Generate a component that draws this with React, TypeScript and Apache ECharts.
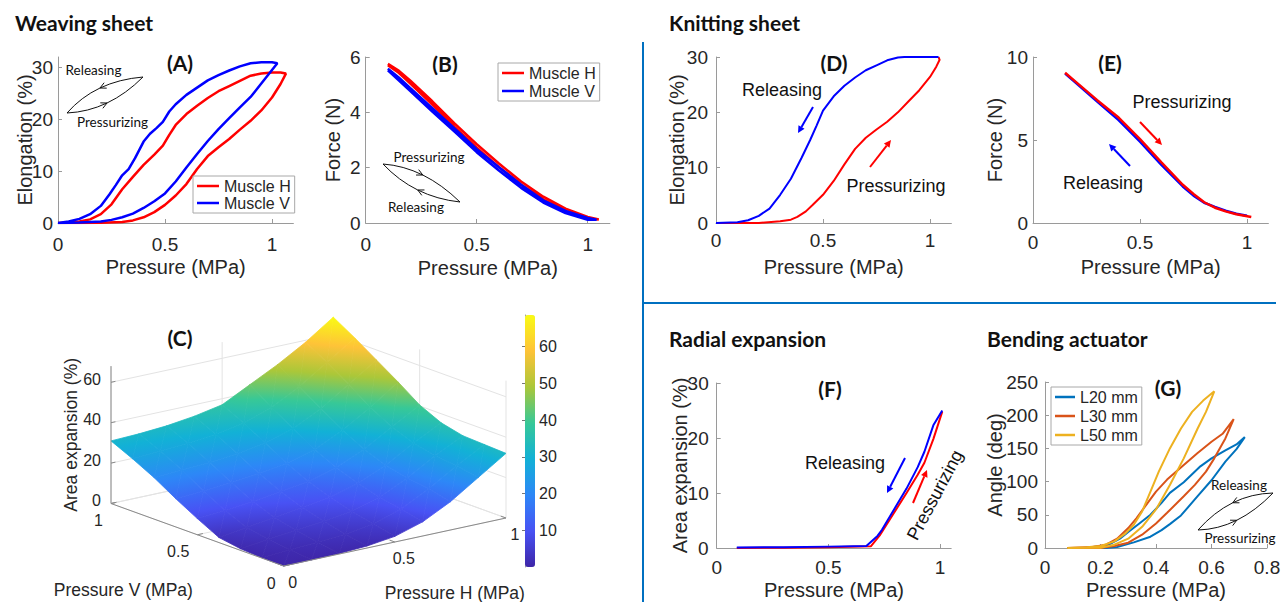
import React, { useEffect, useRef } from 'react';
import * as echarts from 'echarts';

// ---------------- Data ----------------
// (A) Weaving sheet: elongation (%) vs pressure (MPa), hysteresis loops
const aMuscleH = [[0,0],[0.1,0.02],[0.2,0.05],[0.3,0.2],[0.35,0.5],[0.4,1.1],[0.45,2.1],[0.5,3.5],[0.55,5.3],[0.6,7.5],[0.65,10.4],[0.7,12.9],[0.75,14.6],[0.8,16.2],[0.85,18],[0.9,19.7],[0.95,21.7],[1.0,24.2],[1.04,26.8],[1.065,28.8],[1.04,29],[1.0,29],[0.95,28.8],[0.9,28.4],[0.85,27.4],[0.8,26.4],[0.75,25.4],[0.7,24.1],[0.65,22.6],[0.6,21],[0.55,18.9],[0.52,17],[0.49,14.9],[0.45,13.2],[0.4,11.2],[0.35,8.9],[0.3,6.5],[0.25,3.6],[0.2,1.7],[0.15,0.7],[0.1,0.3],[0.05,0.1],[0,0]];
const aMuscleV = [[0,0],[0.1,0.1],[0.2,0.3],[0.25,0.6],[0.3,1.1],[0.35,1.8],[0.4,2.9],[0.45,4.2],[0.5,5.7],[0.55,8],[0.6,10.7],[0.65,13.3],[0.7,15.8],[0.75,18.1],[0.8,20.2],[0.85,22.3],[0.9,24.3],[0.95,26.9],[1.0,29.5],[1.025,30.8],[1.0,31],[0.95,31],[0.9,30.8],[0.85,30.2],[0.8,29.4],[0.75,28.5],[0.7,27.5],[0.65,26.1],[0.6,24.7],[0.55,22.9],[0.52,21.5],[0.49,19.5],[0.46,18.3],[0.43,17.2],[0.4,15.7],[0.36,12.5],[0.33,10.4],[0.3,9.2],[0.27,7.3],[0.24,5.5],[0.2,3.3],[0.15,1.7],[0.1,0.8],[0.05,0.3],[0,0]];
const aXTicks = [0, 0.5, 1];
const aYTicks = [0, 10, 20, 30];

// (B) Weaving sheet: force (N) vs pressure
const bMuscleH = [[0.1,5.75],[0.15,5.5],[0.2,5.15],[0.3,4.4],[0.4,3.6],[0.5,2.85],[0.6,2.15],[0.7,1.5],[0.8,0.95],[0.9,0.52],[1.0,0.22],[1.05,0.13],[1.0,0.15],[0.9,0.42],[0.8,0.85],[0.7,1.38],[0.6,2.02],[0.5,2.72],[0.4,3.47],[0.3,4.28],[0.2,5.05],[0.15,5.42],[0.1,5.7]];
const bMuscleV = [[0.1,5.58],[0.15,5.25],[0.2,4.88],[0.3,4.15],[0.4,3.42],[0.5,2.67],[0.6,2.02],[0.7,1.38],[0.8,0.82],[0.9,0.44],[1.0,0.18],[1.04,0.12],[1.0,0.12],[0.9,0.36],[0.8,0.74],[0.7,1.27],[0.6,1.9],[0.5,2.56],[0.4,3.3],[0.3,4.03],[0.2,4.78],[0.15,5.15],[0.1,5.52]];
const bXTicks = [0, 0.5, 1];
const bYTicks = [0, 2, 4, 6];

// (D) Knitting sheet: elongation
const dPressurizing = [[0,0],[0.2,0],[0.3,0.3],[0.35,0.6],[0.38,1.1],[0.42,2.1],[0.45,3.2],[0.5,5.1],[0.55,7.6],[0.6,10.6],[0.65,13.4],[0.7,15.4],[0.75,16.9],[0.8,18.3],[0.85,20],[0.9,22],[0.95,24],[1.0,26.4],[1.03,28.3],[1.045,29.5],[1.04,30]];
const dReleasing = [[1.04,30],[0.95,30],[0.88,30],[0.85,29.9],[0.8,29.4],[0.75,28.5],[0.7,27.6],[0.65,26.3],[0.6,24.8],[0.55,22.9],[0.5,20.3],[0.47,17.6],[0.44,15],[0.4,11.8],[0.35,8],[0.3,5.1],[0.27,3.6],[0.25,2.6],[0.2,1.3],[0.15,0.5],[0.1,0.15],[0,0]];
const dXTicks = [0, 0.5, 1];
const dYTicks = [0, 10, 20, 30];

// (E) Knitting sheet: force
const ePressurizing = [[0.15,9.05],[0.2,8.5],[0.3,7.4],[0.4,6.35],[0.5,5.05],[0.6,3.65],[0.7,2.3],[0.75,1.75],[0.8,1.25],[0.85,0.92],[0.9,0.7],[0.95,0.53],[1.02,0.36]];
const eReleasing = [[1.0,0.44],[0.95,0.56],[0.9,0.74],[0.85,0.97],[0.8,1.22],[0.75,1.65],[0.7,2.2],[0.6,3.5],[0.5,4.9],[0.4,6.2],[0.3,7.32],[0.2,8.45],[0.15,9.0]];
const eXTicks = [0, 0.5, 1];
const eYTicks = [0, 5, 10];

// (F) Radial expansion
const fPressurizing = [[0.09,0],[0.3,0.05],[0.5,0.15],[0.69,0.3],[0.73,2.3],[0.78,5.5],[0.85,10],[0.9,13.3],[0.93,15.5],[0.97,19.8],[1.01,24.8]];
const fReleasing = [[1.01,25],[0.97,22.3],[0.93,17.5],[0.9,14.7],[0.85,10.8],[0.8,7.4],[0.74,3.3],[0.72,2.2],[0.67,0.35],[0.5,0.25],[0.3,0.15],[0.09,0.1]];
const fXTicks = [0, 0.5, 1];
const fYTicks = [0, 10, 20, 30];

// (G) Bending actuator: angle (deg)
const gL20 = [[0.08,0],[0.15,0],[0.22,0],[0.26,1.5],[0.32,8.5],[0.38,17],[0.42,27],[0.45,36],[0.49,49],[0.55,78],[0.6,102],[0.65,130],[0.69,149],[0.72,167],[0.69,156],[0.65,147],[0.6,135],[0.56,123],[0.5,99],[0.45,83],[0.42,68],[0.38,50],[0.34,37],[0.3,24],[0.27,14],[0.23,5],[0.2,2.5],[0.15,0.5],[0.08,0]];
const gL30 = [[0.08,0],[0.2,0],[0.25,3],[0.3,8],[0.35,20],[0.4,37],[0.44,53],[0.5,78],[0.54,95],[0.58,115],[0.61,135],[0.65,165],[0.68,194],[0.64,172],[0.6,160],[0.55,143],[0.5,125],[0.44,103],[0.4,85],[0.37,68],[0.33,45],[0.3,30],[0.26,14],[0.22,5],[0.17,1.5],[0.08,0]];
const gL50 = [[0.08,0],[0.2,0.5],[0.25,5],[0.3,14],[0.35,32],[0.4,58],[0.45,95],[0.5,135],[0.55,180],[0.58,205],[0.61,236],[0.57,222],[0.53,205],[0.49,180],[0.45,150],[0.41,115],[0.38,85],[0.35,55],[0.32,35],[0.29,22],[0.25,10],[0.2,3],[0.15,1],[0.08,0]];
const gXTicks = [0, 0.2, 0.4, 0.6, 0.8];
const gYTicks = [0, 50, 100, 150, 200, 250];

// (C) Area expansion surface (%), rows = Pressure V, columns = Pressure H
const surfH = [0, 0.125, 0.25, 0.375, 0.5, 0.625, 0.75, 0.875, 1];
const surfV = [0, 0.125, 0.25, 0.375, 0.5, 0.625, 0.75, 0.875, 1];
const surfZ = [
  [0, 0.1, 0.3, 1, 2.8, 7, 14, 23, 32],
  [0.2, 1.2, 2, 3, 5, 9.5, 16.5, 25, 32.5],
  [0.8, 2.5, 4, 5.5, 7.5, 11.5, 18, 26, 33],
  [2.5, 4.5, 6.5, 8.5, 10.5, 14.5, 20.5, 28.5, 35.5],
  [8, 9, 10.5, 12.5, 14.5, 18.5, 24.5, 32.5, 40.5],
  [14, 14.8, 16, 17.5, 19.5, 23.5, 30, 38.5, 48],
  [20.5, 21.3, 22.1, 23.5, 25.8, 30, 37, 46, 55],
  [26, 26.9, 27.8, 29.3, 31.8, 36.5, 44, 53, 62],
  [31, 31.5, 32.5, 34.3, 37, 44, 51, 59, 68.5],
];
const cHTicks = [0, 0.5, 1];
const cVTicks = [0, 0.5, 1];
const cZTicks = [0, 20, 40, 60];
const cZTop = 68;
const colorbarTicks = [10, 20, 30, 40, 50, 60];
const colorMin = 0;
const colorMax = 68.6;

// ---------------- Style constants ----------------
const FONT = "'Liberation Sans', Arial, sans-serif";
const CAL = "Lato, 'Open Sans', sans-serif";
const TXT = '#262626';
const AX = '#9a9a9a';
const RED = '#ff0000';
const BLUE = '#0000ff';
const parula = ['#3E26A8', '#4852F4', '#2D87F7', '#12B1D6', '#37C897', '#ABC739', '#FEC338', '#F9FB14'];

// 3D projection (orthographic) for panel C, in pixels
const O3 = [283.7, 566];
const H3 = [222.3, -48];
const V3 = [-172.7, -62.5];
const Z3 = 2.02;
const proj = (h: number, v: number, z: number) => [O3[0] + h * H3[0] + v * V3[0], O3[1] + h * H3[1] + v * V3[1] - z * Z3];

function hexToRgb(h: string) {
  const n = parseInt(h.slice(1), 16);
  return [(n >> 16) & 255, (n >> 8) & 255, n & 255];
}
const parulaRgb = parula.map(hexToRgb);
const stopValue = (k: number) => colorMin + (k / (parula.length - 1)) * (colorMax - colorMin);
function colorAt(z: number) {
  const t = Math.max(0, Math.min(1, (z - colorMin) / (colorMax - colorMin)));
  const s = t * (parula.length - 1);
  const i = Math.min(parula.length - 2, Math.floor(s));
  const f = s - i;
  const a = parulaRgb[i];
  const b = parulaRgb[i + 1];
  return `rgb(${a.map((c, k) => Math.round(c + (b[k] - c) * f)).join(',')})`;
}
// linear gradient that reproduces the colour of z over a flat triangle
function triFill(pts: number[][], zs: number[]) {
  const zmin = Math.min(...zs), zmax = Math.max(...zs);
  const dx1 = pts[1][0] - pts[0][0], dy1 = pts[1][1] - pts[0][1];
  const dx2 = pts[2][0] - pts[0][0], dy2 = pts[2][1] - pts[0][1];
  const dz1 = zs[1] - zs[0], dz2 = zs[2] - zs[0];
  const det = dx1 * dy2 - dx2 * dy1;
  if (Math.abs(det) < 1e-6 || zmax - zmin < 1e-3) return colorAt((zmin + zmax) / 2);
  const a = (dz1 * dy2 - dz2 * dy1) / det;
  const b = (dx1 * dz2 - dx2 * dz1) / det;
  const g2 = a * a + b * b;
  if (g2 < 1e-9) return colorAt((zmin + zmax) / 2);
  const S = pts[zs.indexOf(zmin)];
  const s = (zmax - zmin) / g2;
  const stops: any[] = [{ offset: 0, color: colorAt(zmin) }];
  for (let k = 0; k < parula.length; k++) {
    const zv = stopValue(k);
    if (zv > zmin && zv < zmax) stops.push({ offset: (zv - zmin) / (zmax - zmin), color: parula[k] });
  }
  stops.push({ offset: 1, color: colorAt(zmax) });
  return { type: 'linear', x: S[0], y: S[1], x2: S[0] + a * s, y2: S[1] + b * s, global: true, colorStops: stops };
}

function xAx(grid: number, max: number, ticks: number[], labelMargin = 10, nameGap = 34) {
  return {
    type: 'value', gridIndex: grid, min: 0, max,
    name: 'Pressure (MPa)', nameLocation: 'middle', nameGap, nameMoveOverlap: false,
    nameTextStyle: { fontSize: 20, color: TXT, fontFamily: FONT },
    axisLine: { show: true, onZero: false, lineStyle: { color: AX, width: 1 } },
    axisTick: { show: true, inside: true, length: 4, lineStyle: { color: AX }, customValues: ticks },
    axisLabel: { fontSize: 19, color: TXT, margin: labelMargin, customValues: ticks, fontFamily: FONT },
    splitLine: { show: false },
  };
}
function yAx(grid: number, max: number, ticks: number[], name: string, nameGap: number, labelMargin = 6) {
  return {
    type: 'value', gridIndex: grid, min: 0, max,
    name, nameLocation: 'middle', nameGap, nameMoveOverlap: false,
    nameTextStyle: { fontSize: 20, color: TXT, fontFamily: FONT },
    axisLine: { show: true, onZero: false, lineStyle: { color: AX, width: 1 } },
    axisTick: { show: true, inside: true, length: 4, lineStyle: { color: AX }, customValues: ticks },
    axisLabel: { fontSize: 19, color: TXT, margin: labelMargin, customValues: ticks, fontFamily: FONT },
    splitLine: { show: false },
  };
}
function lineSeries(name: string, data: number[][], color: string, grid: number, width = 2.5) {
  return {
    type: 'line', name, data, xAxisIndex: grid, yAxisIndex: grid,
    showSymbol: false, symbol: 'none', smooth: false, color,
    lineStyle: { color, width }, z: 3, silent: true,
  };
}

// ---------------- Graphic helpers ----------------
function txt(text: string, x: number, y: number, size: number, opts: any = {}) {
  return {
    type: 'text', x, y, rotation: opts.rotation || 0, z: 10,
    style: {
      text, fill: opts.color || '#111', fontSize: size, fontFamily: opts.family || CAL,
      fontWeight: opts.bold ? 'bold' : 'normal', align: opts.align || 'center', verticalAlign: 'middle',
    },
  };
}
function chevron(tx: number, ty: number, dx: number, dy: number) {
  const L = Math.hypot(dx, dy);
  const ux = dx / L, uy = dy / L;
  const nx = -uy, ny = ux;
  return {
    type: 'polyline', z: 10,
    shape: { points: [[tx - ux * 6 + nx * 3, ty - uy * 6 + ny * 3], [tx, ty], [tx - ux * 6 - nx * 3, ty - uy * 6 - ny * 3]] },
    style: { stroke: '#111', lineWidth: 1, fill: null },
  };
}
function loopIcon(p0: number[], p1: number[], cpU: number[], cpD: number[], upToP1: boolean) {
  const midU = [0.25 * p0[0] + 0.5 * cpU[0] + 0.25 * p1[0], 0.25 * p0[1] + 0.5 * cpU[1] + 0.25 * p1[1]];
  const midD = [0.25 * p0[0] + 0.5 * cpD[0] + 0.25 * p1[0], 0.25 * p0[1] + 0.5 * cpD[1] + 0.25 * p1[1]];
  const dx = p1[0] - p0[0], dy = p1[1] - p0[1];
  return [
    { type: 'bezierCurve', z: 10, shape: { x1: p0[0], y1: p0[1], x2: p1[0], y2: p1[1], cpx1: cpU[0], cpy1: cpU[1] }, style: { stroke: '#111', lineWidth: 1, fill: null } },
    { type: 'bezierCurve', z: 10, shape: { x1: p0[0], y1: p0[1], x2: p1[0], y2: p1[1], cpx1: cpD[0], cpy1: cpD[1] }, style: { stroke: '#111', lineWidth: 1, fill: null } },
    upToP1 ? chevron(midU[0], midU[1], dx, dy) : chevron(midU[0], midU[1], -dx, -dy),
    upToP1 ? chevron(midD[0], midD[1], -dx, -dy) : chevron(midD[0], midD[1], dx, dy),
  ];
}
function arrow(x1: number, y1: number, x2: number, y2: number, color: string) {
  const L = Math.hypot(x2 - x1, y2 - y1);
  const ux = (x2 - x1) / L, uy = (y2 - y1) / L;
  const nx = -uy, ny = ux;
  const bx = x2 - ux * 7, by = y2 - uy * 7;
  return [
    { type: 'line', z: 10, shape: { x1, y1, x2: bx, y2: by }, style: { stroke: color, lineWidth: 2 } },
    { type: 'polygon', z: 10, shape: { points: [[x2, y2], [bx + nx * 3.5, by + ny * 3.5], [bx - nx * 3.5, by - ny * 3.5]] }, style: { fill: color } },
  ];
}

// ---------------- Surface data items (far quads first) ----------------
const surfItems: number[][] = [];
for (let j = 0; j < surfV.length - 1; j++) {
  for (let i = 0; i < surfH.length - 1; i++) {
    const zAvg = (surfZ[j][i] + surfZ[j][i + 1] + surfZ[j + 1][i] + surfZ[j + 1][i + 1]) / 4;
    surfItems.push([i, j, zAvg]);
  }
}
surfItems.sort((a, b) => (b[0] + b[1]) - (a[0] + a[1]));

export default function App() {
  const ref = useRef<HTMLDivElement>(null);
  useEffect(() => {
    if (!ref.current) return;
    const chart = echarts.init(ref.current, undefined, { renderer: 'svg' });

    const gridColor = '#e3e3e3';
    const backGridSeries = {
      type: 'custom', xAxisIndex: 7, yAxisIndex: 7, silent: true, z: 1,
      data: [[0, 0]],
      renderItem: (_p: any, api: any) => {
        const P = (h: number, v: number, z: number) => api.coord(proj(h, v, z));
        const children: any[] = [];
        const seg = (a: number[], b: number[]) => children.push({ type: 'line', shape: { x1: a[0], y1: a[1], x2: b[0], y2: b[1] }, style: { stroke: gridColor, lineWidth: 1 } });
        cZTicks.forEach((z) => seg(P(0, 1, z), P(1, 1, z)));
        cHTicks.forEach((h) => seg(P(h, 1, 0), P(h, 1, cZTop)));
        cZTicks.forEach((z) => seg(P(1, 0, z), P(1, 1, z)));
        cVTicks.forEach((v) => seg(P(1, v, 0), P(1, v, cZTop)));
        cHTicks.forEach((h) => seg(P(h, 0, 0), P(h, 1, 0)));
        cVTicks.forEach((v) => seg(P(0, v, 0), P(1, v, 0)));
        return { type: 'group', children };
      },
    };

    const surfaceSeries = {
      type: 'custom', name: 'Area expansion', xAxisIndex: 7, yAxisIndex: 7, silent: true, z: 2,
      dimensions: ['i', 'j', 'z'],
      encode: { x: 0, y: 1 },
      data: surfItems,
      renderItem: (_p: any, api: any) => {
        const i = api.value(0), j = api.value(1);
        const corner = (a: number, b: number) => ({ p: api.coord(proj(surfH[a], surfV[b], surfZ[b][a])), z: surfZ[b][a] });
        const c00 = corner(i, j), c10 = corner(i + 1, j), c11 = corner(i + 1, j + 1), c01 = corner(i, j + 1);
        const tri = (cs: any[]) => {
          const pts = cs.map((c) => c.p);
          const fill = triFill(pts, cs.map((c) => c.z));
          return { type: 'polygon', shape: { points: pts }, style: { fill, stroke: fill, lineWidth: 0.8, lineJoin: 'round' } };
        };
        return { type: 'group', children: [tri([c00, c11, c01]), tri([c00, c10, c11])] };
      },
    };

    const frontAxesSeries = {
      type: 'custom', xAxisIndex: 7, yAxisIndex: 7, silent: true, z: 4,
      data: [[0, 0]],
      renderItem: (_p: any, api: any) => {
        const P = (h: number, v: number, z: number) => api.coord(proj(h, v, z));
        const children: any[] = [];
        const seg = (a: number[], b: number[], c = '#8a8a8a') => children.push({ type: 'line', shape: { x1: a[0], y1: a[1], x2: b[0], y2: b[1] }, style: { stroke: c, lineWidth: 1 } });
        const label = (t: string, p: number[], dx: number, dy: number, align: string, size = 16, rot = 0) => children.push({
          type: 'text', x: p[0] + dx, y: p[1] + dy, rotation: rot,
          style: { text: t, fill: TXT, fontSize: size, fontFamily: FONT, align, verticalAlign: 'middle' },
        });
        seg(P(0, 0, 0), P(0, 1, 0));
        seg(P(0, 0, 0), P(1, 0, 0));
        seg(P(0, 1, 0), P(0, 1, cZTop));
        cVTicks.forEach((v) => { seg(P(0, v, 0), P(0.025, v, 0)); label(String(v), P(0, v, 0), -8, 17, 'right'); });
        cHTicks.forEach((h) => { seg(P(h, 0, 0), P(h, 0.03, 0)); label(String(h), P(h, 0, 0), 9, 16, 'center'); });
        cZTicks.forEach((z) => { seg(P(0, 1, z), P(0.02, 1, z)); label(String(z), P(0, 1, z), -10, -3, 'right'); });
        label('Area expansion (%)', P(0, 1, 34), -40, 0, 'center', 17.5, Math.PI / 2);
        label('Pressure V (MPa)', P(0, 0.5, 0), -74, 55, 'center', 17.5);
        label('Pressure H (MPa)', P(0.5, 0, 0), 60, 51, 'center', 17.5);
        return { type: 'group', children };
      },
    };

    const grids = [
      { left: 58, top: 57, width: 235.4, height: 166 },      // A
      { left: 365.7, top: 57, width: 244.2, height: 166 },   // B
      { left: 716, top: 57, width: 235.4, height: 166 },     // D
      { left: 1033, top: 57, width: 235.4, height: 166 },    // E
      { left: 716.7, top: 383, width: 234.5, height: 165 },  // F
      { left: 1045, top: 382, width: 222, height: 166 },     // G
      { left: 525, top: 315, width: 10, height: 252 },       // colorbar
      { left: 0, top: 0, width: 1284, height: 602 },         // 3D pixel plane
    ].map((g) => ({ ...g, outerBoundsMode: 'none', containLabel: false, show: false }));

    const option: any = {
      animation: false,
      backgroundColor: '#ffffff',
      textStyle: { fontFamily: FONT },
      grid: grids,
      xAxis: [
        xAx(0, 1.1, aXTicks, 12, 34),
        xAx(1, 1.1, bXTicks, 12, 35),
        xAx(2, 1.1, dXTicks, 8, 34),
        xAx(3, 1.1, eXTicks, 10, 34),
        xAx(4, 1.05, fXTicks, 10, 32),
        xAx(5, 0.8, gXTicks, 10, 32),
        { type: 'value', gridIndex: 6, min: 0, max: 1, show: false },
        { type: 'value', gridIndex: 7, min: 0, max: 1284, show: false },
      ],
      yAxis: [
        yAx(0, 32, aYTicks, 'Elongation (%)', 23, 5),
        yAx(1, 6, bYTicks, 'Force (N)', 23, 5),
        yAx(2, 30, dYTicks, 'Elongation (%)', 29, 8),
        yAx(3, 10, eYTicks, 'Force (N)', 28, 5),
        yAx(4, 30, fYTicks, 'Area expansion (%)', 27, 8),
        yAx(5, 250, gYTicks, 'Angle (deg)', 40, 7),
        {
          type: 'value', gridIndex: 6, min: colorMin, max: colorMax, position: 'right',
          axisLine: { show: true, lineStyle: { color: AX } },
          axisTick: { show: true, inside: true, length: 3, lineStyle: { color: '#777' }, customValues: colorbarTicks },
          axisLabel: { fontSize: 16, color: TXT, margin: 4, customValues: colorbarTicks, fontFamily: FONT },
          splitLine: { show: false },
        },
        { type: 'value', gridIndex: 7, min: 0, max: 602, inverse: true, show: false },
      ],
      visualMap: {
        type: 'continuous', min: colorMin, max: colorMax, seriesIndex: 14, dimension: 2,
        calculable: false, left: 525, top: 315, itemWidth: 10, itemHeight: 252, padding: 0,
        inRange: { color: parula }, hoverLink: false,
      },
      legend: [
        {
          data: ['Muscle H', 'Muscle V'], left: 193, top: 176, orient: 'vertical', icon: 'rect',
          itemWidth: 22, itemHeight: 2.5, itemGap: 1, selectedMode: false,
          textStyle: { fontSize: 16, color: TXT, fontFamily: FONT },
          borderColor: '#a8a8a8', borderWidth: 1, padding: [2, 4, 2, 4], backgroundColor: '#fff',
        },
        {
          data: ['Muscle H', 'Muscle V'], left: 498, top: 63, orient: 'vertical', icon: 'rect',
          itemWidth: 22, itemHeight: 2.5, itemGap: 2, selectedMode: false,
          textStyle: { fontSize: 16, color: TXT, fontFamily: FONT },
          borderColor: '#a8a8a8', borderWidth: 1, padding: [2, 4, 2, 4], backgroundColor: '#fff',
        },
        {
          data: ['L20 mm', 'L30 mm', 'L50 mm'], left: 1051, top: 387, orient: 'vertical', icon: 'rect',
          itemWidth: 20, itemHeight: 2.5, itemGap: 3, selectedMode: false,
          textStyle: { fontSize: 16, color: TXT, fontFamily: FONT },
          borderColor: '#a8a8a8', borderWidth: 1, padding: [2, 4, 2, 4], backgroundColor: '#fff',
        },
      ],
      series: [
        lineSeries('Muscle H', aMuscleH, RED, 0),          // 0
        lineSeries('Muscle V', aMuscleV, BLUE, 0),         // 1
        lineSeries('Muscle H', bMuscleH, RED, 1),          // 2
        lineSeries('Muscle V', bMuscleV, BLUE, 1),         // 3
        lineSeries('D pressurizing', dPressurizing, RED, 2, 2),   // 4
        lineSeries('D releasing', dReleasing, BLUE, 2, 2),        // 5
        lineSeries('E releasing', eReleasing, BLUE, 3, 2.5),      // 6
        lineSeries('E pressurizing', ePressurizing, RED, 3, 2.5), // 7
        lineSeries('F pressurizing', fPressurizing, RED, 4, 2),   // 8
        lineSeries('F releasing', fReleasing, BLUE, 4, 2),        // 9
        lineSeries('L20 mm', gL20, '#0072BD', 5, 2),       // 10
        lineSeries('L30 mm', gL30, '#D95319', 5, 2),       // 11
        lineSeries('L50 mm', gL50, '#EDB120', 5, 2),       // 12
        backGridSeries,                                     // 13
        surfaceSeries,                                      // 14
        frontAxesSeries,                                    // 15
      ],
      graphic: [
        // dividers
        { type: 'line', z: 5, shape: { x1: 643, y1: 42, x2: 643, y2: 602 }, style: { stroke: '#0070C0', lineWidth: 2 } },
        { type: 'line', z: 5, shape: { x1: 643, y1: 303, x2: 1276, y2: 303 }, style: { stroke: '#0070C0', lineWidth: 2 } },
        // section headers
        txt('Weaving sheet', 15, 22, 21, { bold: true, align: 'left' }),
        txt('Knitting sheet', 669, 22, 21, { bold: true, align: 'left' }),
        txt('Radial expansion', 669, 338, 21, { bold: true, align: 'left' }),
        txt('Bending actuator', 987, 338, 21, { bold: true, align: 'left' }),
        // panel letters
        txt('(A)', 180, 62, 21, { bold: true }),
        txt('(B)', 445, 63, 21, { bold: true }),
        txt('(C)', 180, 337, 21, { bold: true }),
        txt('(D)', 834, 62, 21, { bold: true }),
        txt('(E)', 1110, 62, 21, { bold: true }),
        txt('(F)', 830, 388, 21, { bold: true }),
        txt('(G)', 1168, 387, 21, { bold: true }),
        // inset hysteresis icons
        ...loopIcon([67, 113], [143, 77], [95, 81], [109, 111], false),
        txt('Releasing', 93.5, 70, 13.5),
        txt('Pressurizing', 112.5, 122, 13.5),
        ...loopIcon([383, 164], [460, 202], [424, 167], [414, 197], true),
        txt('Pressurizing', 429, 157, 13.5),
        txt('Releasing', 416, 207, 13.5),
        ...loopIcon([1198, 530], [1273, 493], [1230, 494], [1238, 529], false),
        txt('Releasing', 1239, 485, 13.5),
        txt('Pressurizing', 1240, 538, 13.5),
        // D annotations
        txt('Releasing', 782, 90, 18, { family: FONT }),
        ...arrow(813, 107, 798, 133, BLUE),
        txt('Pressurizing', 896, 186, 18, { family: FONT }),
        ...arrow(870, 167, 891, 140, RED),
        // E annotations
        txt('Pressurizing', 1182, 102, 18, { family: FONT }),
        ...arrow(1140, 122, 1162, 145, RED),
        txt('Releasing', 1103, 183, 18, { family: FONT }),
        ...arrow(1130, 166, 1109, 144, BLUE),
        // F annotations
        txt('Releasing', 845, 463, 18, { family: FONT }),
        ...arrow(905, 458, 887, 493, BLUE),
        txt('Pressurizing', 935, 495, 18, { family: FONT, rotation: (62 * Math.PI) / 180 }),
        ...arrow(913, 503, 927, 470, RED),
      ],
    };
    chart.setOption(option);
    return () => chart.dispose();
  }, []);
  return <div ref={ref} style={{ position: 'fixed', left: 0, top: 0, width: 1284, height: 602, background: '#fff' }} />;
}
